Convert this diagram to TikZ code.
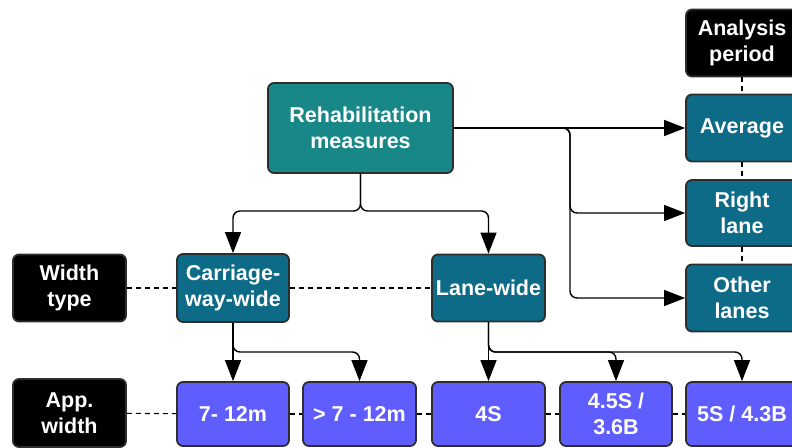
\documentclass[tikz,border=0pt]{standalone}
\usepackage{fontspec}
\setmainfont{Liberation Sans}
\usetikzlibrary{arrows.meta,calc}
\definecolor{rehabteal}{HTML}{178788}
\definecolor{petrol}{HTML}{0D6B88}
\definecolor{violetbox}{HTML}{5F5DFD}
\definecolor{edgegray}{HTML}{2E2E2E}
\begin{document}
\begin{tikzpicture}[x=1pt,y=-1pt,
  box/.style={draw=edgegray,line width=1.8pt,rounded corners=6pt,text=white,
    font=\bfseries\fontsize{21.5}{25.5}\selectfont,align=center,inner sep=0pt,
    minimum width=112pt,minimum height=67pt},
  keybox/.style={box,fill=black},
  topbox/.style={box,fill=rehabteal},
  midbox/.style={box,fill=petrol},
  leafbox/.style={box,fill=violetbox,minimum height=64pt},
  conn/.style={line width=1.4pt,rounded corners=7pt,-{Triangle[length=21pt,width=16pt]}},
  guide/.style={line width=1.1pt,dash pattern=on 5pt off 4pt}
]
\clip (0,0) rectangle (792,447);
\fill[white] (0,0) rectangle (792,447);

% top of the tree
\node[topbox,minimum width=185pt,minimum height=90pt] (rehab) at (360.5,128) {Rehabilitation\\measures};

% analysis period column
\node[keybox] (period) at (742,43) {Analysis\\period};
\node[midbox] (average) at (742,128) {Average};
\node[midbox,minimum height=66pt] (rightlane) at (742,213) {Right\\lane};
\node[midbox] (other) at (742,298) {Other\\lanes};

% width type row
\node[keybox,minimum width=113pt] (wtype) at (69.5,288) {Width\\type};
\node[midbox,minimum height=68pt] (carr) at (233,288) {Carriage-\\way-wide};
\node[midbox,minimum width=113pt] (lane) at (488.5,288) {Lane-wide};

% applied width row
\node[keybox,minimum width=113pt,minimum height=68pt] (appw) at (69.5,413) {App.\\width};
\node[leafbox] (r1) at (233,414) {7- 12m};
\node[leafbox,minimum width=113pt] (r2) at (359.5,414) {> 7 - 12m};
\node[leafbox,minimum width=113pt] (r3) at (488.5,414) {4S};
\node[leafbox] (r4) at (616,414) {4.5S /\\3.6B};
\node[leafbox] (r5) at (742,414) {5S / 4.3B};

% dashed guides between categories and their values
\draw[guide] (period) -- (average);
\draw[guide] (average) -- (rightlane);
\draw[guide] (rightlane) -- (other);
\draw[guide] (wtype) -- (carr);
\draw[guide] (carr) -- (lane);
\draw[guide] (appw) -- (r1);
\draw[guide] (r1) -- (r2);
\draw[guide] (r2) -- (r3);
\draw[guide] (r3) -- (r4);
\draw[guide] (r4) -- (r5);

% branching points
\coordinate (rx) at (570,128);
\coordinate (rsplit) at (360.5,211);
\coordinate (csplit) at (233,352);
\coordinate (lsplit) at (488.5,352);

% connectors
\draw[conn] (rehab.east) -- (average.west);
\draw[conn] (rehab.east) -- (rx) |- (rightlane.west);
\draw[conn] (rehab.east) -- (rx) |- (other.west);
\draw[conn] (rehab.south) -- (rsplit) -| (carr.north);
\draw[conn] (rehab.south) -- (rsplit) -| (lane.north);
\draw[conn] (carr.south) -- (r1.north);
\draw[conn] (carr.south) -- (csplit) -| (r2.north);
\draw[conn] (lane.south) -- (r3.north);
\draw[conn] (lane.south) -- (lsplit) -| (r4.north);
\draw[conn] (lane.south) -- (lsplit) -| (r5.north);
\end{tikzpicture}
\end{document}
